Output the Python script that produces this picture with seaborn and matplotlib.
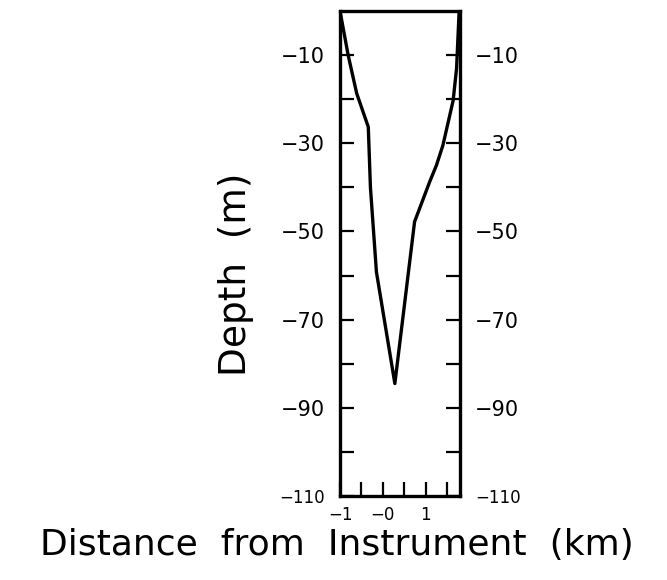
import matplotlib
matplotlib.use("Agg")
import matplotlib.pyplot as plt
import seaborn as sns
import pandas as pd
from matplotlib.ticker import FixedLocator, FixedFormatter

# Cross-section of the channel bottom along the survey line
distance_km = [-1.0, -0.81, -0.61, -0.34, -0.29, -0.15, 0.28, 0.74, 1.09, 1.25, 1.40, 1.64, 1.72, 1.78]
depth_m = [0.0, -10.0, -18.7, -26.3, -40.0, -59.2, -84.5, -47.8, -38.8, -35.0, -30.5, -20.3, -13.0, 0.0]

y_major = [-10, -30, -50, -70, -90, -110]
y_major_labels = ["\u221210", "\u221230", "\u221250", "\u221270", "\u221290", "\u2212110"]
y_minor = [-20, -40, -60, -80, -100]
x_major = [-1.0, 0.0, 1.0]
x_major_labels = ["\u22121", "\u22120", "1"]
x_minor = [-0.5, 0.5, 1.5]

df = pd.DataFrame({"distance": distance_km, "depth": depth_m})

sns.set_style("ticks")
plt.rcParams["font.family"] = ["DejaVu Sans"]
plt.rcParams["text.color"] = "black"
plt.rcParams["axes.labelcolor"] = "black"

fig = plt.figure(figsize=(6.67, 5.8), dpi=100)
ax = fig.add_axes([340 / 667, 1 - 496 / 580, 120 / 667, 485 / 580])

sns.lineplot(data=df, x="distance", y="depth", sort=False, color="black",
             linewidth=2.4, ax=ax, estimator=None)

ax.set_xlim(-1.0, 1.8)
ax.set_ylim(-110, 0)

ax.yaxis.set_major_locator(FixedLocator(y_major))
ax.yaxis.set_major_formatter(FixedFormatter(y_major_labels))
ax.yaxis.set_minor_locator(FixedLocator(y_minor))
ax.xaxis.set_major_locator(FixedLocator(x_major))
ax.xaxis.set_major_formatter(FixedFormatter(x_major_labels))
ax.xaxis.set_minor_locator(FixedLocator(x_minor))

for side in ["left", "right", "top", "bottom"]:
    ax.spines[side].set_visible(True)
    ax.spines[side].set_linewidth(2.4)
    ax.spines[side].set_color("black")

ax.tick_params(axis="y", which="both", direction="in", left=True, right=True,
               labelleft=True, labelright=True, length=10, width=1.6,
               labelsize=15, pad=11, colors="black")
ax.tick_params(axis="x", which="both", direction="in", bottom=True, top=False,
               length=10, width=1.6, labelsize=12, pad=7, colors="black")

ax.set_xlabel("Distance  from  Instrument  (km)", fontsize=26, color="black")
ax.set_ylabel("Depth  (m)", fontsize=27, color="black")
ax.xaxis.set_label_coords(0.5 - (400 - 337) / 120, -0.065)
ax.yaxis.set_label_coords(-0.72, 0.458)

# the lowest depth labels are set a little smaller
fig.canvas.draw()
lowest = ax.yaxis.get_major_ticks()[y_major.index(-110)]
lowest.label1.set_fontsize(12)
lowest.label2.set_fontsize(12)

fig.savefig("out.png", dpi=100, facecolor="white")
